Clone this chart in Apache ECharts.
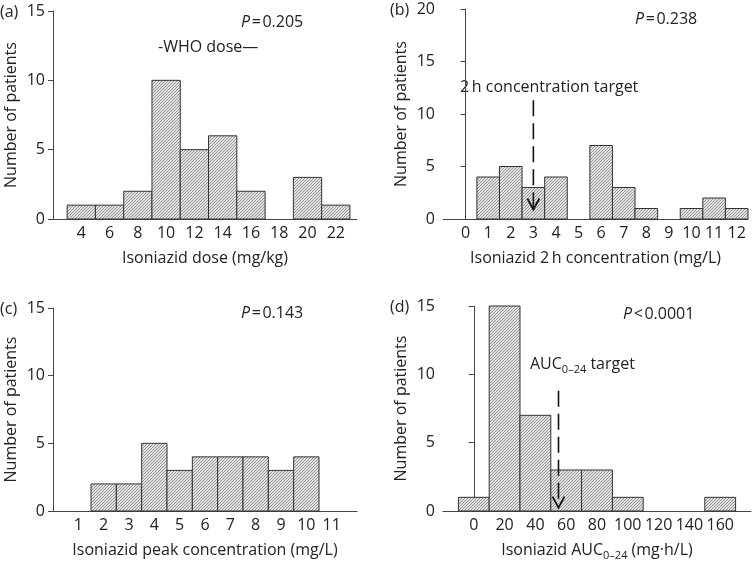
<!DOCTYPE html>
<html><head><meta charset="utf-8">
<script src="https://cdn.jsdelivr.net/npm/echarts@6/dist/echarts.min.js"></script>
<style>html,body{margin:0;padding:0;background:#fff}#c{width:756px;height:564px}</style>
</head><body><div id="c"></div>
<script>
// ---- data ----
const binsA = [4, 6, 8, 10, 12, 14, 16, 18, 20, 22];
const countsA = [1, 1, 2, 10, 5, 6, 2, 0, 3, 1];
const binsB = [0, 1, 2, 3, 4, 5, 6, 7, 8, 9, 10, 11, 12];
const countsB = [0, 4, 5, 3, 4, 0, 7, 3, 1, 0, 1, 2, 1];
const binsC = [1, 2, 3, 4, 5, 6, 7, 8, 9, 10, 11];
const countsC = [0, 2, 2, 5, 3, 4, 4, 4, 3, 4, 0];
const binsD = [0, 20, 40, 60, 80, 100, 120, 140, 160];
const countsD = [1, 15, 7, 3, 3, 1, 0, 0, 1];
const binWidth = [2, 1, 1, 20];
// target arrows: [x, top y, tip y]
const arrowB = [3, 11.3, 0.9];
const arrowD = [55, 8.8, 0.25];

const FONT = 'Open Sans';
const FS = 16;
const INK = '#222';

// hatch pattern
const pc = document.createElement('canvas');
pc.width = 3; pc.height = 3;
const g = pc.getContext('2d');
g.fillStyle = '#e2e2e2'; g.fillRect(0, 0, 3, 3);
g.fillStyle = '#959595';
g.fillRect(0, 2, 1, 1); g.fillRect(1, 1, 1, 1); g.fillRect(2, 0, 1, 1);
const hatch = {image: pc, repeat: 'repeat'};

function histData(bins, counts, w) {
  return bins.map((b, i) => [b - w / 2, b + w / 2, counts[i]]);
}
function renderBar(params, api) {
  const v = api.value(2);
  if (!v) return null;
  const p0 = api.coord([api.value(0), 0]);
  const p1 = api.coord([api.value(1), v]);
  return {type: 'rect', shape: {x: p0[0], y: p1[1], width: p1[0] - p0[0], height: p0[1] - p1[1]},
    style: {fill: hatch, stroke: '#333', lineWidth: 1}};
}
function renderArrow(params, api) {
  const a = api.coord([api.value(0), api.value(1)]);
  const b = api.coord([api.value(0), api.value(2)]);
  return {type: 'group', children: [
    {type: 'line', shape: {x1: a[0], y1: a[1], x2: b[0], y2: b[1] - 2},
      style: {stroke: '#111', lineWidth: 1.6, lineDash: [16, 7]}},
    {type: 'polyline', shape: {points: [[b[0] - 6, b[1] - 11], [b[0], b[1]], [b[0] + 6, b[1] - 11]]},
      style: {stroke: '#111', lineWidth: 1.8, fill: null}}
  ]};
}

const grids = [
  {left: 53, top: 11, width: 304, height: 208},
  {left: 443, top: 9, width: 305, height: 210},
  {left: 53, top: 308, width: 304, height: 203},
  {left: 443, top: 306, width: 308, height: 205}
];
const xCfg = [
  {min: 2, max: 23.5, interval: 2, lo: 4, hi: 22, name: 'Isoniazid dose (mg/kg)'},
  {min: -1, max: 12.5, interval: 1, lo: 0, hi: 12, name: 'Isoniazid 2\u2009h concentration (mg/L)'},
  {min: 0, max: 12, interval: 1, lo: 1, hi: 11, name: 'Isoniazid peak concentration (mg/L)'},
  {min: -20, max: 180, interval: 20, lo: 0, hi: 160, name: 'Isoniazid AUC{s|0\u201324} (mg\u00b7h/L)'}
];
const yMax = [15, 20, 15, 15];

const subRich = {s: {fontSize: 11, fontFamily: FONT, color: INK, padding: [11, 0, 0, 0]}};

const xAxis = xCfg.map((c, i) => ({
  type: 'value', gridIndex: i, min: c.min, max: c.max, interval: c.interval,
  name: c.name, nameLocation: 'middle', nameGap: 28,
  nameTextStyle: {fontSize: FS, fontFamily: FONT, color: INK, lineHeight: 22, rich: subRich},
  axisLine: {show: true, lineStyle: {color: '#444', width: 1}},
  axisTick: {show: false}, splitLine: {show: false},
  axisLabel: {fontSize: FS, fontFamily: FONT, color: INK, margin: 6,
    formatter: v => (v < c.lo || v > c.hi) ? '' : String(v)}
}));
const yAxis = yMax.map((m, i) => ({
  type: 'value', gridIndex: i, min: 0, max: m, interval: 5,
  name: 'Number of patients', nameLocation: 'middle', nameGap: 34,
  nameTextStyle: {fontSize: FS, fontFamily: FONT, color: INK},
  axisLine: {show: true, lineStyle: {color: '#444', width: 1}},
  axisTick: {show: true, length: 5, lineStyle: {color: '#444'}},
  splitLine: {show: false},
  axisLabel: {fontSize: FS, fontFamily: FONT, color: INK, margin: 8}
}));

const allBins = [binsA, binsB, binsC, binsD];
const allCounts = [countsA, countsB, countsC, countsD];
const series = allBins.map((b, i) => ({
  type: 'custom', xAxisIndex: i, yAxisIndex: i, renderItem: renderBar,
  data: histData(b, allCounts[i], binWidth[i]), encode: {x: [0, 1], y: 2}, silent: true
}));
series.push({type: 'custom', xAxisIndex: 1, yAxisIndex: 1, renderItem: renderArrow, data: [arrowB], encode: {x: 0, y: [1, 2]}, z: 5, silent: true});
series.push({type: 'custom', xAxisIndex: 3, yAxisIndex: 3, renderItem: renderArrow, data: [arrowD], encode: {x: 0, y: [1, 2]}, z: 5, silent: true});

function txt(x, y, text, rich) {
  return {type: 'text', x: x, y: y, silent: true,
    style: {text: text, fontSize: FS, fontFamily: FONT, fill: INK, verticalAlign: 'middle', align: 'left',
      rich: rich || {}}};
}
const itRich = {i: {fontStyle: 'italic', fontSize: FS, fontFamily: FONT, color: INK}};
const graphics = [
  txt(0, 12, '(a)'), txt(390, 10, '(b)'), txt(0, 309, '(c)'), txt(390, 307, '(d)'),
  txt(241, 22, '{i|P}\u200a=\u200a0.205', itRich),
  txt(635, 19, '{i|P}\u200a=\u200a0.238', itRich),
  txt(241, 313, '{i|P}\u200a=\u200a0.143', itRich),
  txt(623, 314, '{i|P}\u200a<\u200a0.0001', itRich),
  txt(158, 47, '-WHO dose\u2014'),
  txt(460, 87, '2\u2009h concentration target'),
  {type: 'text', x: 530, y: 364, silent: true,
    style: {text: 'AUC{s|0\u201324} target', fontSize: FS, fontFamily: FONT, fill: INK,
      verticalAlign: 'middle', lineHeight: 22, rich: subRich}}
];

const chart = echarts.init(document.getElementById('c'), null, {renderer: 'canvas'});
chart.setOption({
  animation: false,
  grid: grids.map(gr => Object.assign({outerBoundsMode: 'none', containLabel: false}, gr)),
  xAxis: xAxis, yAxis: yAxis, series: series, graphic: graphics
});
</script></body></html>
